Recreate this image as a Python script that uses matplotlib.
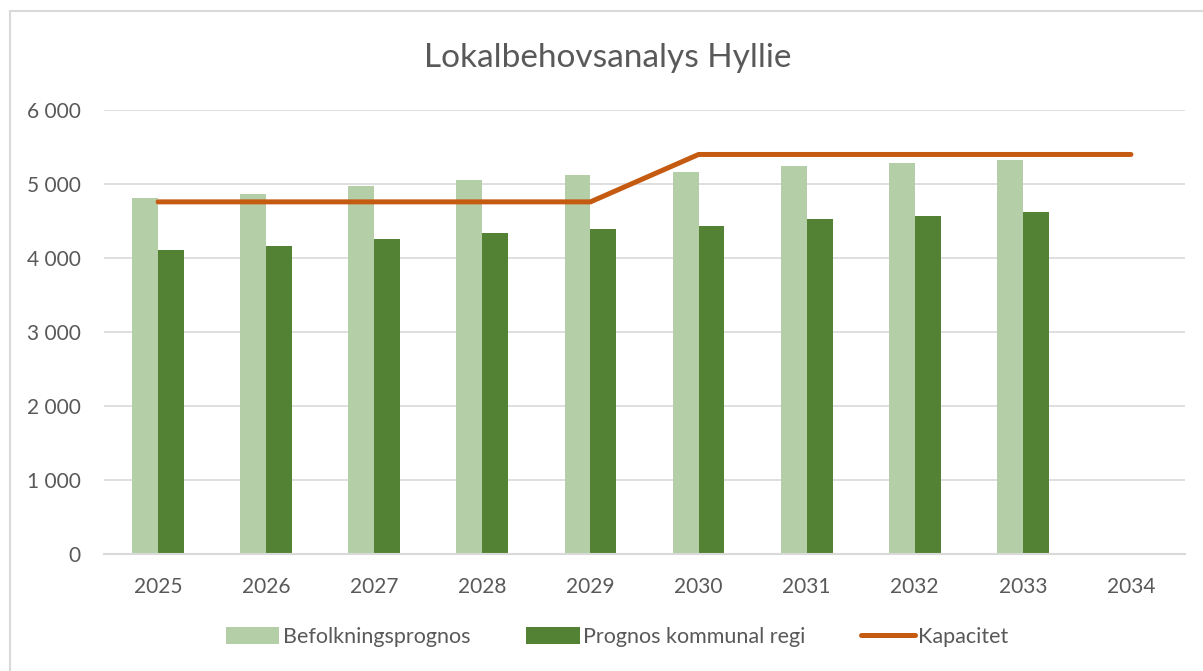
import numpy as np
import matplotlib
matplotlib.use("Agg")
import matplotlib.pyplot as plt
from matplotlib.ticker import FuncFormatter, MultipleLocator

plt.rcParams['font.family'] = ['Lato', 'DejaVu Sans']

years = ["2025", "2026", "2027", "2028", "2029", "2030", "2031", "2032", "2033", "2034"]
befolkning = [4810, 4860, 4970, 5060, 5120, 5160, 5250, 5290, 5330, np.nan]
kommunal = [4110, 4160, 4260, 4340, 4400, 4440, 4530, 4570, 4620, np.nan]
kapacitet = [4760, 4760, 4760, 4760, 4760, 5400, 5400, 5400, 5400, 5400]

TEXT = "#595959"
GRID = "#d9d9d9"

fig = plt.figure(figsize=(12.03, 6.71), dpi=100)
ax = fig.add_axes([0.0865, 0.1739, 0.8985, 0.6621])

x = np.arange(len(years))
w = 0.24
b1 = ax.bar(x - w / 2, befolkning, w, color="#b4cfa7", label="Befolkningsprognos", zorder=2)
b2 = ax.bar(x + w / 2, kommunal, w, color="#548235", label="Prognos kommunal regi", zorder=2)
l1, = ax.plot(x, kapacitet, color="#c55a11", lw=3.6, solid_capstyle="round",
              solid_joinstyle="miter", label="Kapacitet", zorder=3)

ax.set_xlim(-0.5, len(years) - 0.5)
ax.set_ylim(0, 6000)
ax.yaxis.set_major_locator(MultipleLocator(1000))
ax.yaxis.set_major_formatter(FuncFormatter(lambda v, p: f"{int(v):,}".replace(",", " ")))
ax.set_xticks(x)
ax.set_xticklabels(years)

ax.grid(axis="y", color=GRID, lw=1.2, zorder=0)
for s in ["top", "right", "left"]:
    ax.spines[s].set_visible(False)
ax.spines["bottom"].set_color(GRID)
ax.spines["bottom"].set_linewidth(1.5)
ax.tick_params(length=0, colors=TEXT, labelsize=15)
ax.tick_params(axis="x", pad=16)
ax.tick_params(axis="y", pad=17)

fig.text(0.505, 0.913, "Lokalbehovsanalys Hyllie", ha="center", va="center",
         fontsize=24, color=TEXT)

ax.legend([b1, b2, l1], ["Befolkningsprognos", "Prognos kommunal regi", "Kapacitet"],
          loc="center", bbox_to_anchor=(0.513, 0.051), bbox_transform=fig.transFigure,
          ncol=3, frameon=False, fontsize=15.5, labelcolor=TEXT,
          handlelength=2.5, handleheight=0.8, handletextpad=0.15, columnspacing=2.6)

# chart border (only top/left visible in crop)
fig.add_artist(plt.Line2D([0.0083, 0.0083], [0, 0.984], color=GRID, lw=1.5,
                          transform=fig.transFigure))
fig.add_artist(plt.Line2D([0.0083, 1], [0.984, 0.984], color=GRID, lw=1.5,
                          transform=fig.transFigure))

fig.savefig("out.png", dpi=100)
